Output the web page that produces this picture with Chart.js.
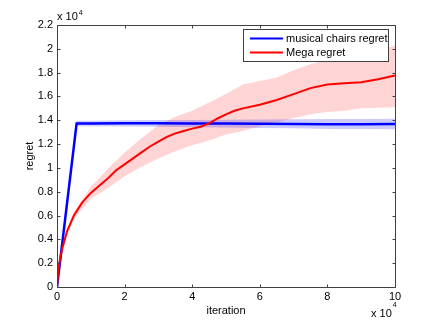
<!DOCTYPE html>
<html><head><meta charset="utf-8">
<script src="https://cdn.jsdelivr.net/npm/chart.js@4/dist/chart.umd.min.js"></script>
<style>html,body{margin:0;padding:0;background:#fff}canvas{display:block}</style>
</head><body>
<canvas id="c" width="436" height="323"></canvas>
<script>
// ---- data (iterations in units of 10^4, regret in units of 10^4) ----
const xTickValues = [0, 2, 4, 6, 8, 10];
const yTickValues = [0, 0.2, 0.4, 0.6, 0.8, 1, 1.2, 1.4, 1.6, 1.8, 2, 2.2];

const megaX    = [0, 0.05, 0.15, 0.3, 0.5, 0.75, 1, 1.25, 1.5, 1.75, 2, 2.25, 2.5, 2.75, 3, 3.25, 3.5, 3.75, 4, 4.25, 4.5, 4.75, 5, 5.25, 5.5, 6, 6.5, 7, 7.5, 8, 8.5, 9, 9.5, 10];
const megaMean = [0, 0.17, 0.32, 0.47, 0.6, 0.71, 0.79, 0.85, 0.91, 0.98, 1.03, 1.08, 1.13, 1.18, 1.22, 1.26, 1.29, 1.31, 1.33, 1.345, 1.375, 1.415, 1.45, 1.48, 1.5, 1.53, 1.57, 1.62, 1.67, 1.7, 1.71, 1.72, 1.745, 1.777];

const megaBandX = [0, 0.25, 0.5, 1, 1.5, 2, 2.5, 3, 3.5, 4, 4.5, 5, 5.5, 6, 6.5, 7, 7.5, 8, 8.5, 9, 9.5, 10];
const megaUpper = [0, 0.44, 0.63, 0.84, 0.99, 1.13, 1.25, 1.36, 1.43, 1.48, 1.55, 1.62, 1.7, 1.73, 1.76, 1.82, 1.87, 1.91, 1.93, 1.95, 1.98, 2.03];
const megaLower = [0, 0.39, 0.57, 0.74, 0.83, 0.93, 1.01, 1.08, 1.14, 1.19, 1.23, 1.28, 1.31, 1.35, 1.38, 1.42, 1.45, 1.47, 1.48, 1.5, 1.505, 1.51];

const mcX     = [0, 0.58, 1, 2, 3, 4, 5, 6, 7, 8, 9, 10];
const mcMean  = [0, 1.372, 1.372, 1.374, 1.375, 1.373, 1.372, 1.37, 1.369, 1.366, 1.367, 1.368];
const mcUpper = [0, 1.395, 1.397, 1.4, 1.403, 1.403, 1.405, 1.406, 1.408, 1.41, 1.41, 1.412];
const mcLower = [0, 1.35, 1.349, 1.347, 1.345, 1.342, 1.34, 1.336, 1.332, 1.327, 1.326, 1.325];

const seriesLabels = ['musical chairs regret', 'Mega regret'];
const xTitle = 'iteration';
const yTitle = 'regret';

const pts = (xs, ys) => xs.map((v, i) => ({x: v, y: ys[i]}));
const FONT = '"Liberation Sans", Arial, sans-serif';

const framePlugin = {
  id: 'frame',
  afterDatasetsDraw(chart) {
    const {ctx, chartArea: a, scales: {x, y}} = chart;
    const L = Math.round(a.left) + 0.5, R = Math.round(a.right) + 0.5;
    const T = Math.round(a.top) + 0.5, B = Math.round(a.bottom) + 0.5;
    ctx.save();
    ctx.strokeStyle = '#404040';
    ctx.lineWidth = 1;
    ctx.beginPath();
    ctx.rect(L, T, R - L, B - T);
    const tl = 3;
    x.ticks.forEach(t => {
      const px = Math.round(x.getPixelForValue(t.value)) + 0.5;
      ctx.moveTo(px, B); ctx.lineTo(px, B - tl);
      ctx.moveTo(px, T); ctx.lineTo(px, T + tl);
    });
    y.ticks.forEach(t => {
      const py = Math.round(y.getPixelForValue(t.value)) + 0.5;
      ctx.moveTo(L, py); ctx.lineTo(L + tl, py);
      ctx.moveTo(R, py); ctx.lineTo(R - tl, py);
    });
    ctx.stroke();
    ctx.restore();
  },
  afterDraw(chart) {
    const {ctx, chartArea: a} = chart;
    ctx.save();
    ctx.fillStyle = '#000';
    ctx.textBaseline = 'middle';
    ctx.textAlign = 'left';
    ctx.font = '11px ' + FONT;
    ctx.fillText('x 10', a.left, a.top - 8);
    const w1 = ctx.measureText('x 10').width;
    ctx.font = '7px ' + FONT;
    ctx.fillText('4', a.left + w1 + 1, a.top - 12);
    ctx.font = '11px ' + FONT;
    ctx.fillText('x 10', a.right - 24, a.bottom + 27);
    ctx.font = '7px ' + FONT;
    ctx.fillText('4', a.right - 24 + w1 + 1, a.bottom + 18);
    // legend
    const lx = 243.5, ly = 29.5, lw = 145, lh = 32;
    ctx.fillStyle = '#fff';
    ctx.fillRect(lx, ly, lw, lh);
    ctx.strokeStyle = '#404040';
    ctx.lineWidth = 1;
    ctx.strokeRect(lx, ly, lw, lh);
    const items = [
      {label: seriesLabels[0], color: '#0000ff', y: 38.5},
      {label: seriesLabels[1], color: '#ff0000', y: 52.5}
    ];
    ctx.font = '11px ' + FONT;
    items.forEach(it => {
      ctx.strokeStyle = it.color;
      ctx.lineWidth = 2;
      ctx.beginPath();
      ctx.moveTo(250, it.y); ctx.lineTo(283, it.y);
      ctx.stroke();
      ctx.fillStyle = '#000';
      ctx.fillText(it.label, 286, it.y);
    });
    ctx.restore();
  }
};

new Chart(document.getElementById('c'), {
  type: 'line',
  data: {
    datasets: [
      {label: 'mega upper', data: pts(megaBandX, megaUpper), borderWidth: 0, borderColor: 'rgba(0,0,0,0)', pointRadius: 0, fill: '+1', backgroundColor: 'rgba(255,0,0,0.17)', order: 4},
      {label: 'mega lower', data: pts(megaBandX, megaLower), borderWidth: 0, borderColor: 'rgba(0,0,0,0)', pointRadius: 0, fill: false, order: 4},
      {label: 'mc upper', data: pts(mcX, mcUpper), borderWidth: 0, borderColor: 'rgba(0,0,0,0)', pointRadius: 0, fill: '+1', backgroundColor: 'rgba(0,0,255,0.2)', order: 3},
      {label: 'mc lower', data: pts(mcX, mcLower), borderWidth: 0, borderColor: 'rgba(0,0,0,0)', pointRadius: 0, fill: false, order: 3},
      {label: seriesLabels[0], data: pts(mcX, mcMean), borderColor: '#0000ff', borderWidth: 2.5, pointRadius: 0, fill: false, order: 2},
      {label: seriesLabels[1], data: pts(megaX, megaMean), borderColor: '#ff0000', borderWidth: 2, pointRadius: 0, fill: false, order: 1}
    ]
  },
  options: {
    responsive: false,
    animation: false,
    devicePixelRatio: 1,
    layout: {padding: {left: 0, top: 25, right: 41, bottom: 0}},
    plugins: {legend: {display: false}, tooltip: {enabled: false}},
    elements: {line: {tension: 0}},
    scales: {
      x: {
        type: 'linear', min: 0, max: 10,
        afterBuildTicks: s => { s.ticks = xTickValues.map(v => ({value: v})); },
        afterFit: s => { s.height = 36; },
        grid: {display: false, drawTicks: false},
        border: {display: false},
        ticks: {color: '#000', font: {family: FONT, size: 11}, padding: 3, maxRotation: 0},
        title: {display: true, text: xTitle, color: '#000', font: {family: FONT, size: 11}, padding: {top: 0, bottom: 5}}
      },
      y: {
        type: 'linear', min: 0, max: 2.2,
        afterBuildTicks: s => { s.ticks = yTickValues.map(v => ({value: v})); },
        afterFit: s => { s.width = 57; },
        grid: {display: false, drawTicks: false},
        border: {display: false},
        ticks: {color: '#000', font: {family: FONT, size: 11}, padding: 4, callback: v => String(Math.round(v * 10) / 10)},
        title: {display: true, text: yTitle, color: '#000', font: {family: FONT, size: 11}, padding: {top: 23, bottom: 0}}
      }
    }
  },
  plugins: [framePlugin]
});
</script>
</body></html>
